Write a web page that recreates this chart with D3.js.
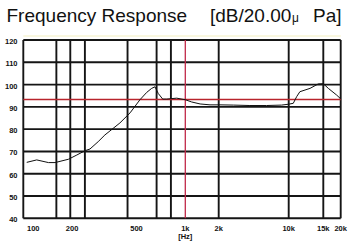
<!DOCTYPE html>
<html>
<head>
<meta charset="utf-8">
<script src="https://cdn.jsdelivr.net/npm/d3@7"></script>
<style>
  body { margin: 0; background: #fff; }
  text { font-family: "Liberation Sans", Arial, sans-serif; fill: #111; }
</style>
</head>
<body>
<div id="chart"></div>
<script>
// response curve
var freqs = [105, 121, 143, 157, 190, 214, 240, 258, 290, 319, 351, 395, 456, 525, 578, 620, 650, 681, 725, 768, 885, 1000, 1140, 1360, 1670, 2060, 2800, 4100, 6000, 8500, 10000, 10550, 10980, 11400, 12840, 14140, 15000, 16300, 18700, 20000];
var levels = [65.1, 66.2, 65.0, 65.0, 66.5, 68.4, 70.3, 71.1, 74.4, 77.4, 79.8, 82.8, 87.3, 93.2, 96.5, 98.3, 99.0, 96.0, 93.5, 93.5, 93.9, 93.2, 92.2, 91.3, 90.9, 90.9, 90.8, 90.6, 90.6, 90.8, 91.2, 91.6, 94.6, 96.8, 98.3, 100.3, 100.4, 98.3, 95.3, 93.6];

var xBreaks = [100, 1000, 2000, 10000, 15000, 20000];
var xGrid = [160, 195, 240, 440, 665, 815, 1000, 2000, 10000, 15000];
var xTicks = [100, 200, 500, 1000, 2000, 10000, 15000, 20000];
var xTickLabels = ["100", "200", "500", "1k", "2k", "10k", "15k", "20k"];
var yTicks = [40, 50, 60, 70, 80, 90, 100, 110, 120];
var refLevel = 93.3;
var refFreq = 1000;

var width = 354, height = 242;
var plotLeft = 23.3, plotRight = 340.7, plotTop = 40, plotBottom = 218.3;

// the printed frequency axis is not a clean log scale, so it is piecewise
var x = d3.scaleLog()
    .domain(xBreaks)
    .range([plotLeft, 185.3, 218.7, 288.7, 323.3, plotRight]);
var y = d3.scaleLinear().domain([40, 120]).range([plotBottom, plotTop]);

var svg = d3.select("#chart")
  .append("svg")
  .attr("width", width)
  .attr("height", height);

svg.append("text")
  .attr("x", 6.5)
  .attr("y", 21.5)
  .style("font-size", "19px")
  .text("Frequency Response");

var unit = svg.append("text")
  .attr("y", 21.5)
  .style("font-size", "19px");
unit.append("tspan").attr("x", 210).text("[dB/20.00");
unit.append("tspan").attr("x", 292).style("font-size", "12px").text("\u03bc");
unit.append("tspan").attr("x", 313).text("Pa]");

// faint yellow rule above the frame
svg.append("line")
  .attr("x1", plotLeft).attr("x2", plotRight)
  .attr("y1", plotTop - 4).attr("y2", plotTop - 4)
  .attr("stroke", "#f3efc0")
  .attr("stroke-width", 1.2);

var grid = svg.append("g").attr("stroke", "#151515").attr("stroke-width", 1.9);

grid.selectAll("line.h")
  .data(yTicks)
  .enter().append("line")
  .attr("class", "h")
  .attr("x1", plotLeft).attr("x2", plotRight)
  .attr("y1", function(d) { return y(d); })
  .attr("y2", function(d) { return y(d); });

grid.selectAll("line.v")
  .data(xGrid.filter(function(d) { return d != refFreq; }).concat([100, 20000]))
  .enter().append("line")
  .attr("class", "v")
  .attr("x1", function(d) { return x(d); })
  .attr("x2", function(d) { return x(d); })
  .attr("y1", plotTop).attr("y2", plotBottom);

// red reference lines
svg.append("line")
  .attr("x1", x(refFreq)).attr("x2", x(refFreq))
  .attr("y1", plotTop).attr("y2", plotBottom)
  .attr("stroke", "#c02848")
  .attr("stroke-width", 1.3);

svg.append("line")
  .attr("x1", plotLeft).attr("x2", plotRight)
  .attr("y1", y(refLevel)).attr("y2", y(refLevel))
  .attr("stroke", "#b8242c")
  .attr("stroke-width", 1.4);

var line = d3.line()
  .x(function(d) { return x(d[0]); })
  .y(function(d) { return y(d[1]); });

svg.append("path")
  .datum(d3.zip(freqs, levels))
  .attr("d", line)
  .attr("fill", "none")
  .attr("stroke", "#111")
  .attr("stroke-width", 1);

svg.selectAll("text.ylab")
  .data(yTicks)
  .enter().append("text")
  .attr("class", "ylab")
  .attr("x", 17.5)
  .attr("y", function(d) { return y(d) + 4; })
  .attr("text-anchor", "end")
  .style("font-size", "7.5px")
  .style("font-weight", "bold")
  .text(function(d) { return d; });

svg.selectAll("text.xlab")
  .data(xTicks)
  .enter().append("text")
  .attr("class", "xlab")
  .attr("x", function(d, i) { return x(d) + (i == 0 ? 10 : 0); })
  .attr("y", 231)
  .attr("text-anchor", "middle")
  .style("font-size", "7.5px")
  .style("font-weight", "bold")
  .text(function(d, i) { return xTickLabels[i]; });

svg.append("text")
  .attr("x", x(refFreq))
  .attr("y", 238.5)
  .attr("text-anchor", "middle")
  .style("font-size", "7.5px")
  .style("font-weight", "bold")
  .text("[Hz]");
</script>
</body>
</html>
